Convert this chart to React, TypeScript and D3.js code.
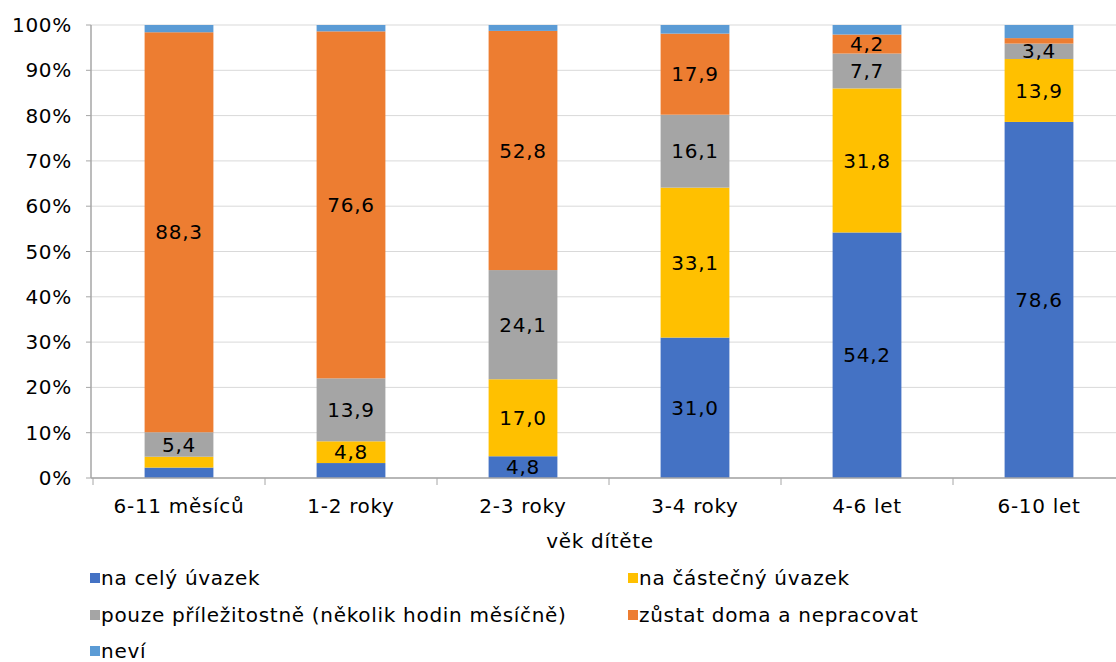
import React from "react";
import * as d3 from "d3";

const categories = ["6-11 měsíců", "1-2 roky", "2-3 roky", "3-4 roky", "4-6 let", "6-10 let"];
const seriesNames = [
  "na celý úvazek",
  "na částečný úvazek",
  "pouze příležitostně (několik hodin měsíčně)",
  "zůstat doma a nepracovat",
  "neví",
];
const celyUvazek = [2.3, 3.3, 4.8, 31.0, 54.2, 78.6];
const castecnyUvazek = [2.4, 4.8, 17.0, 33.1, 31.8, 13.9];
const prilezitostne = [5.4, 13.9, 24.1, 16.1, 7.7, 3.4];
const zustatDoma = [88.3, 76.6, 52.8, 17.9, 4.2, 1.2];
const nevi = [1.6, 1.4, 1.3, 1.9, 2.1, 2.9];
const yTicks = [0, 10, 20, 30, 40, 50, 60, 70, 80, 90, 100];
const colors = ["#4472C4", "#FFC000", "#A5A5A5", "#ED7D31", "#5B9BD5"];

const W = 1116;
const H = 662;
const FONT = "'DejaVu Sans', Verdana, sans-serif";
const LS = 0.7;

export default function App() {
  const series = [celyUvazek, castecnyUvazek, prilezitostne, zustatDoma, nevi];
  const x = d3.scaleBand<string>().domain(categories).range([93, 1125]).paddingInner(0.6).paddingOuter(0.3);
  const y = d3.scaleLinear().domain([0, 100]).range([478, 25]);
  const table = categories.map((c, i) => {
    const o: any = { cat: c };
    seriesNames.forEach((s, k) => (o[s] = series[k][i]));
    return o;
  });
  const stacked = d3.stack<any>().keys(seriesNames)(table);
  const step = x.step();
  const boundaries = categories.map((_, i) => 93 + i * step).concat([93 + categories.length * step]);
  const fmt = (v: number) => v.toFixed(1).replace(".", ",");

  const legendPos = [
    [90, 578],
    [628, 578],
    [90, 615],
    [628, 615],
    [90, 651],
  ];

  return (
    <div style={{ position: "absolute", left: 0, top: 0 }}>
      <svg width={W} height={H} style={{ display: "block", background: "#fff" }} fontFamily={FONT} letterSpacing={LS}>
        {yTicks.map((t) => (
          <g key={t}>
            <line x1={91} x2={W} y1={y(t)} y2={y(t)} stroke="#d9d9d9" strokeWidth={1} />
            <line x1={86} x2={91} y1={y(t)} y2={y(t)} stroke="#a6a6a6" strokeWidth={1} />
            <text x={72} y={y(t)} dy="0.35em" textAnchor="end" fontSize={20} fill="#000">
              {t}%
            </text>
          </g>
        ))}
        {stacked.map((layer, k) => (
          <g key={k}>
            {layer.map((d, i) => (
              <rect
                key={i}
                x={x(categories[i])}
                width={x.bandwidth()}
                y={y(d[1])}
                height={y(d[0]) - y(d[1])}
                fill={colors[k]}
              />
            ))}
          </g>
        ))}
        <line x1={91} x2={91} y1={y(100)} y2={y(0)} stroke="#a6a6a6" strokeWidth={1.5} />
        <line x1={91} x2={W} y1={y(0)} y2={y(0)} stroke="#a6a6a6" strokeWidth={1.5} />
        {boundaries.map((b, i) => (
          <line key={i} x1={b} x2={b} y1={y(0)} y2={y(0) + 7} stroke="#a6a6a6" strokeWidth={1} />
        ))}
        {stacked.map((layer, k) =>
          k < 4
            ? layer.map((d, i) => {
                const v = series[k][i];
                if (v < 3.4) return null;
                return (
                  <text
                    key={`${k}-${i}`}
                    x={(x(categories[i]) as number) + x.bandwidth() / 2}
                    y={(y(d[0]) + y(d[1])) / 2}
                    dy="0.36em"
                    textAnchor="middle"
                    fontSize={20}
                    fill="#000"
                  >
                    {fmt(v)}
                  </text>
                );
              })
            : null
        )}
        {categories.map((c) => (
          <text
            key={c}
            x={(x(c) as number) + x.bandwidth() / 2}
            y={506}
            dy="0.35em"
            textAnchor="middle"
            fontSize={20}
            fill="#000"
          >
            {c}
          </text>
        ))}
        <text x={600} y={541} dy="0.35em" textAnchor="middle" fontSize={20} fill="#000">
          věk dítěte
        </text>
        {seriesNames.map((s, k) => (
          <g key={s}>
            <rect x={legendPos[k][0]} y={legendPos[k][1] - 5} width={10} height={10} fill={colors[k]} />
            <text x={legendPos[k][0] + 11} y={legendPos[k][1]} dy="0.35em" fontSize={20} fill="#000">
              {s}
            </text>
          </g>
        ))}
      </svg>
    </div>
  );
}
